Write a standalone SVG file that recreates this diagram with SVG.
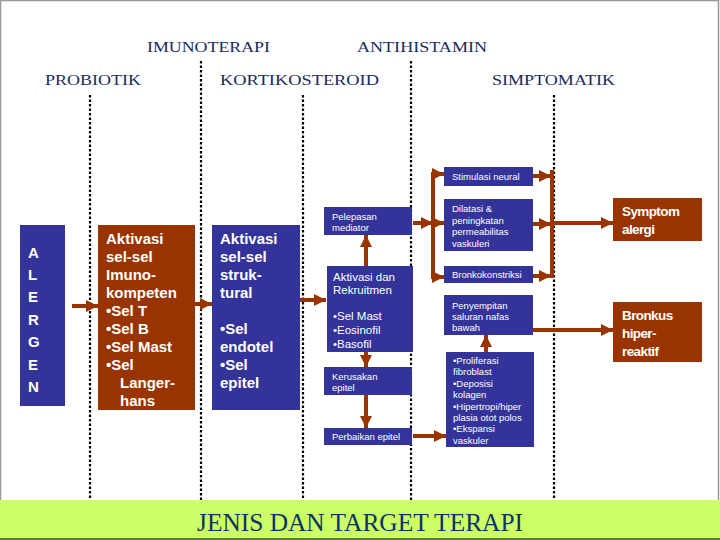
<svg xmlns="http://www.w3.org/2000/svg" width="720" height="540" viewBox="0 0 720 540">
<defs>
<style>
.hdr{font-family:"Liberation Serif","Times New Roman",serif;font-size:15px;fill:#1c2a5c}
.dot{stroke:#000;stroke-width:2.2;stroke-dasharray:2.5 2;fill:none}
.blue{fill:#333399}
.brown{fill:#993300}
.big{font-family:"Liberation Sans",Arial,sans-serif;font-weight:bold;font-size:15px;fill:#fff}
.mid{font-family:"Liberation Sans",Arial,sans-serif;font-size:11.5px;fill:#fff}
.sm{font-family:"Liberation Sans",Arial,sans-serif;font-size:9.5px;fill:#fff}
.res{font-family:"Liberation Sans",Arial,sans-serif;font-weight:bold;font-size:13.5px;fill:#fff;letter-spacing:-0.6px}
.con{stroke:#993300;stroke-width:4;fill:none}
.conm{stroke:#993300;stroke-width:4;fill:none;marker-end:url(#ah)}
</style>
<marker id="ah" markerUnits="userSpaceOnUse" markerWidth="14" markerHeight="14" refX="12" refY="7" orient="auto">
<path d="M0,1 L12,7 L0,13 Z" fill="#993300"/>
</marker>
</defs>
<rect x="0" y="0" width="720" height="540" fill="#fff"/>
<rect x="0.5" y="0.5" width="718" height="539" fill="none" stroke="#999" stroke-width="1.5"/>

<g id="headers">
<text class="hdr" x="147" y="52" textLength="123" lengthAdjust="spacingAndGlyphs">IMUNOTERAPI</text>
<text class="hdr" x="357" y="52" textLength="130" lengthAdjust="spacingAndGlyphs">ANTIHISTAMIN</text>
<text class="hdr" x="45" y="85" textLength="96" lengthAdjust="spacingAndGlyphs">PROBIOTIK</text>
<text class="hdr" x="220" y="85" textLength="159" lengthAdjust="spacingAndGlyphs">KORTIKOSTEROID</text>
<text class="hdr" x="492" y="85" textLength="123" lengthAdjust="spacingAndGlyphs">SIMPTOMATIK</text>
</g>

<g id="dividers">
<line class="dot" x1="90" y1="95" x2="90" y2="540"/>
<line class="dot" x1="201" y1="61" x2="201" y2="540"/>
<line class="dot" x1="303" y1="95" x2="303" y2="540"/>
<line class="dot" x1="411" y1="61" x2="411" y2="540"/>
<line class="dot" x1="554" y1="95" x2="554" y2="540"/>
</g>

<g id="connectors">
<line class="conm" x1="72" y1="306" x2="98" y2="306"/>
<line class="conm" x1="195" y1="304" x2="212" y2="304"/>
<line class="conm" x1="298" y1="300" x2="326" y2="300"/>
<line class="conm" x1="366" y1="266" x2="366" y2="235"/>
<line class="conm" x1="366" y1="352" x2="366" y2="367"/>
<line class="conm" x1="366" y1="395" x2="366" y2="428"/>
<line class="conm" x1="413" y1="436" x2="446" y2="436"/>
<line class="conm" x1="486" y1="352" x2="486" y2="335"/>
<line class="conm" x1="413" y1="223" x2="433" y2="223"/>
<path class="con" d="M444,174 L433,174 L433,277 L444,277"/>
<line class="conm" x1="433" y1="174" x2="444" y2="174"/>
<line class="conm" x1="433" y1="223" x2="444" y2="223"/>
<line class="conm" x1="433" y1="277" x2="444" y2="277"/>
<line class="conm" x1="533" y1="176" x2="551" y2="176"/>
<line class="conm" x1="533" y1="224" x2="551" y2="224"/>
<line class="conm" x1="533" y1="276" x2="551" y2="276"/>
<line class="con" x1="552" y1="170" x2="552" y2="278"/>
<line class="conm" x1="552" y1="223" x2="613" y2="223"/>
<line class="conm" x1="533" y1="330" x2="613" y2="330"/>
</g>

<g id="alergen">
<rect class="blue" x="20" y="225" width="45" height="181"/>
<text class="big" font-size="16">
<tspan x="28" y="258">A</tspan><tspan x="28" y="280">L</tspan><tspan x="28" y="302">E</tspan><tspan x="28" y="325">R</tspan><tspan x="28" y="347">G</tspan><tspan x="28" y="370">E</tspan><tspan x="28" y="392">N</tspan>
</text>
</g>

<g id="imunokompeten">
<rect class="brown" x="98" y="225" width="97" height="185"/>
<text class="big">
<tspan x="106" y="244">Aktivasi</tspan><tspan x="106" y="262">sel-sel</tspan><tspan x="106" y="280">Imuno-</tspan><tspan x="106" y="298">kompeten</tspan><tspan x="106" y="316">•Sel T</tspan><tspan x="106" y="334">•Sel B</tspan><tspan x="106" y="352">•Sel Mast</tspan><tspan x="106" y="370">•Sel</tspan><tspan x="120" y="388">Langer-</tspan><tspan x="120" y="406">hans</tspan>
</text>
</g>

<g id="struktural">
<rect class="blue" x="212" y="225" width="88" height="185"/>
<text class="big">
<tspan x="220" y="244">Aktivasi</tspan><tspan x="220" y="262">sel-sel</tspan><tspan x="220" y="280">struk-</tspan><tspan x="220" y="298">tural</tspan><tspan x="220" y="334">•Sel</tspan><tspan x="220" y="352">endotel</tspan><tspan x="220" y="370">•Sel</tspan><tspan x="220" y="388">epitel</tspan>
</text>
</g>

<g id="pelepasan">
<rect class="blue" x="324" y="207" width="88" height="28"/>
<text class="sm"><tspan x="332" y="220">Pelepasan</tspan><tspan x="332" y="231">mediator</tspan></text>
</g>

<g id="aktivasi-rekruitmen">
<rect class="blue" x="327" y="266" width="86" height="86"/>
<text class="mid"><tspan x="333" y="281">Aktivasi dan</tspan><tspan x="333" y="294">Rekruitmen</tspan><tspan x="333" y="320">•Sel Mast</tspan><tspan x="333" y="334">•Eosinofil</tspan><tspan x="333" y="348">•Basofil</tspan></text>
</g>

<g id="kerusakan">
<rect class="blue" x="324" y="367" width="88" height="28"/>
<text class="sm"><tspan x="332" y="380">Kerusakan</tspan><tspan x="332" y="391">epitel</tspan></text>
</g>

<g id="perbaikan">
<rect class="blue" x="324" y="428" width="88" height="17"/>
<text class="sm" x="332" y="440">Perbaikan epitel</text>
</g>

<g id="stimulasi">
<rect class="blue" x="444" y="167" width="89" height="19"/>
<text class="sm" x="452" y="180">Stimulasi neural</text>
</g>

<g id="dilatasi">
<rect class="blue" x="444" y="199" width="89" height="52"/>
<text class="sm"><tspan x="452" y="212">Dilatasi &amp;</tspan><tspan x="452" y="224">peningkatan</tspan><tspan x="452" y="235">permeabilitas</tspan><tspan x="452" y="247">vaskuleri</tspan></text>
</g>

<g id="bronkokonstriksi">
<rect class="blue" x="444" y="266" width="89" height="17"/>
<text class="sm" x="452" y="278" font-size="9">Bronkokonstriksi</text>
</g>

<g id="penyempitan">
<rect class="blue" x="444" y="295" width="89" height="40"/>
<text class="sm"><tspan x="452" y="309">Penyempitan</tspan><tspan x="452" y="320">saluran nafas</tspan><tspan x="452" y="331">bawah</tspan></text>
</g>

<g id="proliferasi">
<rect class="blue" x="446" y="352" width="88" height="95"/>
<text class="sm"><tspan x="453" y="364">•Proliferasi</tspan><tspan x="453" y="375">fibroblast</tspan><tspan x="453" y="387">•Deposisi</tspan><tspan x="453" y="398">kolagen</tspan><tspan x="453" y="410">•Hipertropi/hiper</tspan><tspan x="453" y="421">plasia otot polos</tspan><tspan x="453" y="432">•Ekspansi</tspan><tspan x="453" y="444">vaskuler</tspan></text>
</g>

<g id="symptom-alergi">
<rect class="brown" x="613" y="198" width="89" height="43"/>
<text class="res"><tspan x="622" y="216">Symptom</tspan><tspan x="622" y="234">alergi</tspan></text>
</g>

<g id="bronkus-hiperreaktif">
<rect class="brown" x="613" y="302" width="89" height="60"/>
<text class="res"><tspan x="622" y="320">Bronkus</tspan><tspan x="622" y="338">hiper-</tspan><tspan x="622" y="356">reaktif</tspan></text>
</g>

<g id="footer">
<rect x="0" y="500" width="720" height="40" fill="#ccff66"/>
<line x1="0" y1="539" x2="720" y2="539" stroke="#335533" stroke-width="1.5"/>
<text x="360" y="531" text-anchor="middle" font-family="Liberation Serif,'Times New Roman',serif" font-size="25" fill="#0d3366" textLength="326" lengthAdjust="spacingAndGlyphs">JENIS DAN TARGET TERAPI</text>
</g>
</svg>
